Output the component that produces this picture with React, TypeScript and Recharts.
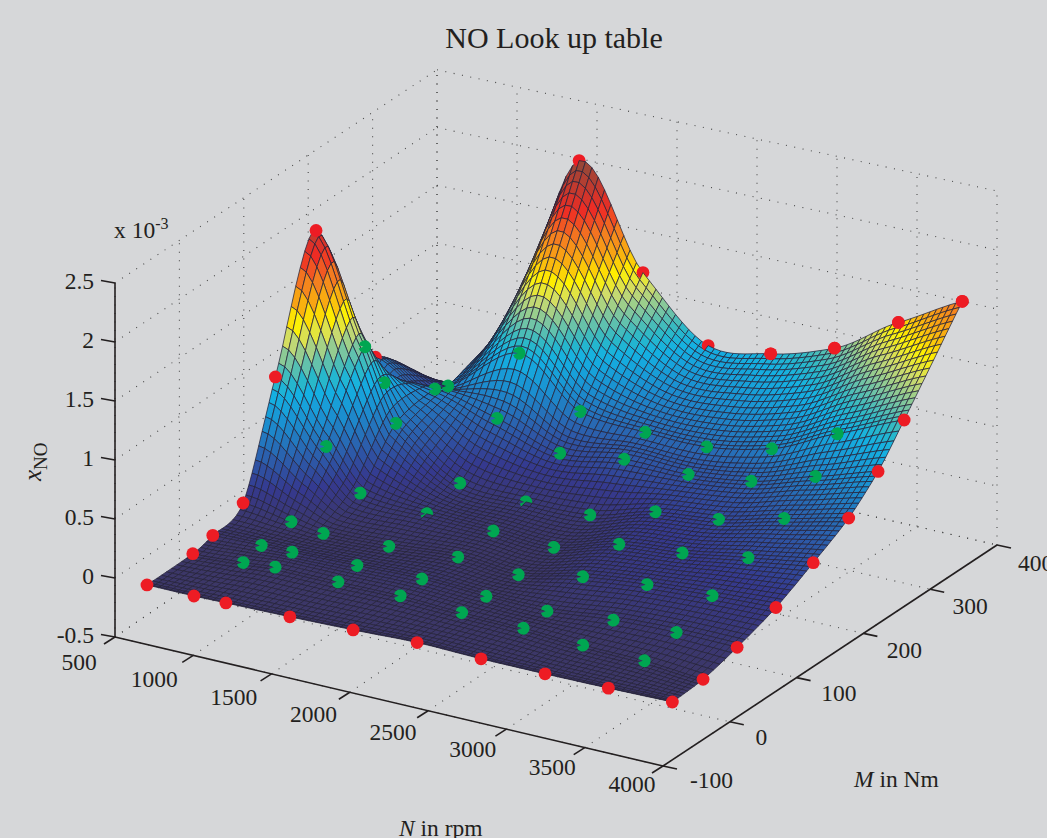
import React from 'react';
import { ScatterChart, Scatter, XAxis, YAxis, ReferenceLine } from 'recharts';

// Lookup table: one row per torque line, front to back.
const speeds = [700, 1000, 1200, 1600, 2000, 2400, 2800, 3200, 3600, 4000];

const torqueRows = [
  [-99, -99, -98, -96, -95, -93, -91, -89, -88, -86],
  [-28, -23, -22, -22, -23, -25, -27, -32, -34, -40],
  [3, 5, 4, 7, 10, 12, 9, 14, 14, 11],
  [50, 51, 52, 56, 65, 61, 63, 65, 68, 69],
  [100, 105, 109, 114, 119, 115, 118, 118, 122, 125],
  [163, 165, 164, 165, 169, 170, 173, 173, 176, 178],
  [213, 195, 224, 222, 221, 222, 223, 222, 223, 222],
  [255, 257, 244, 256, 252, 254, 251, 253, 256, 261],
  [351, 348, 347, 348, 348, 350, 348, 348, 348, 348],
];

const noRows = [
  [0, 0, 0, 0, 0.01, 0.02, 0, -0.01, -0.01, -0.01],
  [0, 0, 0.02, 0.02, 0.03, 0.02, 0.02, 0.02, 0.02, 0.01],
  [0.04, 0.04, 0.05, 0.05, 0.05, 0.02, 0.03, 0.06, 0.08, 0.09],
  [0.14, 0.07, 0.03, 0.03, 0.03, 0.02, 0.12, 0.17, 0.19, 0.21],
  [1.03, 0.51, 0.16, 0.09, 0.05, 0.05, 0.19, 0.24, 0.31, 0.38],
  [2.05, 1.14, 0.55, 0.16, 0.11, 0.12, 0.26, 0.32, 0.44, 0.56],
  [0.11, 0.72, 0.62, 0.5, 0.33, 0.4, 0.39, 0.46, 0.62, 0.79],
  [0.62, 0.38, 0.57, 0.93, 0.57, 0.51, 0.52, 0.62, 0.86, 1.08],
  [0, 0.22, 0.78, 2.24, 1.4, 0.89, 0.95, 1.12, 1.46, 1.76],
];

const speedTicks = [500, 1000, 1500, 2000, 2500, 3000, 3500, 4000];
const torqueTicks = [-100, 0, 100, 200, 300, 400];
const noTicks = [-0.5, 0, 0.5, 1, 1.5, 2, 2.5];

const colourStops: [number, string][] = [
  [0.02, '#3c3768'],
  [0.25, '#35398f'],
  [0.45, '#2c5dab'],
  [0.7, '#1b8fd0'],
  [0.9, '#14b1e2'],
  [1.0, '#2ab8c8'],
  [1.15, '#7cc6a0'],
  [1.3, '#d0dc6a'],
  [1.42, '#fff200'],
  [1.55, '#f9b20f'],
  [1.72, '#f47d20'],
  [1.9, '#ee2c24'],
  [2.25, '#8d4a3a'],
];

const TEXT = '#231f20';
const FONT = '"Liberation Serif", serif';
const RED = '#ed1c24';
const GREEN = '#00a651';
const LAST_ROW = noRows.length - 1;
const DOT_R = 6.4;

// mesh lines per gap between two table rows, about one every 5.5 Nm
const rowSteps = [12, 6, 9, 10, 10, 9, 6, 17];
// dots that lie under the sheet in the picture, as row-column
const buriedDots = ['4-3', '5-4'];

// view of the 3d box, in chart units
const project = (n: number, m: number, z: number) => {
  const t = (n - 500) / 3500;
  const d = (m + 100) / 100;
  const s = 118 - 2.6 * (d / 5) * (1 - t);
  return {
    sx: 115 + 548 * t + (64.4 + 2.4 * t) * d,
    sy: 637 + 129 * t - 44.2 * d - s * (z + 0.5),
  };
};

const hex = (c: string) => [1, 3, 5].map((i) => parseInt(c.slice(i, i + 2), 16));

const colourFor = (z: number) => {
  if (z <= colourStops[0][0]) return colourStops[0][1];
  for (let i = 1; i < colourStops.length; i++) {
    if (z <= colourStops[i][0]) {
      const [z0, c0] = colourStops[i - 1];
      const [z1, c1] = colourStops[i];
      const f = (z - z0) / (z1 - z0);
      const a = hex(c0);
      const b = hex(c1);
      return `rgb(${a.map((v, k) => Math.round(v + (b[k] - v) * f)).join(',')})`;
    }
  }
  return colourStops[colourStops.length - 1][1];
};

// The table above is the data. Between its knots the sheet is only a drawn
// curve, the same idea as a Line with type="monotone".
const TENSION = 0.42;
const curve = (p0: number, p1: number, p2: number, p3: number, f: number) => {
  const t1 = TENSION * (p2 - p0);
  const t2 = TENSION * (p3 - p1);
  const f2 = f * f;
  const f3 = f2 * f;
  return (2 * f3 - 3 * f2 + 1) * p1 + (f3 - 2 * f2 + f) * t1 + (-2 * f3 + 3 * f2) * p2 + (f3 - f2) * t2;
};

const pick = (rows: number[][], r: number, c: number) => {
  const rr = Math.max(0, Math.min(rows.length - 1, r));
  const cc = Math.max(0, Math.min(rows[0].length - 1, c));
  const over = r - rr;
  const side = c - cc;
  let v = rows[rr][cc];
  if (over) v += over * (rows[rr][cc] - rows[rr - Math.sign(over)][cc]);
  if (side) v += side * (rows[rr][cc] - rows[rr][cc - Math.sign(side)]);
  return v;
};

const sheet = (rows: number[][], r: number, c: number, fr: number, fc: number) => {
  const across = [-1, 0, 1, 2].map((k) =>
    curve(pick(rows, r + k, c - 1), pick(rows, r + k, c), pick(rows, r + k, c + 1), pick(rows, r + k, c + 2), fc),
  );
  return curve(across[0], across[1], across[2], across[3], fr);
};

const stepsFor = (c: number) => Math.round((speeds[c + 1] - speeds[c]) / 40);

// dots sit just above the sheet, so most are painted after the cell in front of them;
// the ones behind the peaks keep their place in the back-to-front order
const paintsLate = (r: number, c: number) =>
  r >= 1 && r < LAST_ROW && !(c === 0 && r >= 6) && !(c === 1 && r === 7) && !buriedDots.includes(`${r}-${c}`);
const isBorder = (r: number, c: number) => r === 0 || r === LAST_ROW || c === 0 || c === speeds.length - 1;

const Dot = ({ x, y, r, c }: { x: number; y: number; r: number; c: number }) => {
  if (isBorder(r, c)) return <circle cx={x} cy={y} r={DOT_R} fill={RED} />;
  // the green dots show a small bite on their left, where the mesh pokes through
  const ax = x - DOT_R * 0.96;
  const ay = y - DOT_R * 0.28;
  const by = y + DOT_R * 0.28;
  return (
    <path
      d={`M${x - 1.5} ${y}L${ax} ${ay}A${DOT_R} ${DOT_R} 0 1 1 ${ax} ${by}Z`}
      fill={GREEN}
    />
  );
};

const SurfaceCell = (props: any) => {
  const { cx, cy, payload } = props;
  const { r, c } = payload;
  const polys: React.ReactNode[] = [];
  if (c < speeds.length - 1 && r < LAST_ROW) {
    const cols = stepsFor(c);
    const rowsHere = rowSteps[r];
    const at = (i: number, j: number) => {
      const fc = i / cols;
      const fr = j / rowsHere;
      const n = speeds[c] + (speeds[c + 1] - speeds[c]) * fc;
      const z = sheet(noRows, r, c, fr, fc);
      const p = project(n, sheet(torqueRows, r, c, fr, fc), z);
      return { x: cx + p.sx - payload.sx, y: cy + p.sy - payload.sy, z };
    };
    for (let i = 0; i < cols; i++) {
      for (let j = rowsHere - 1; j >= 0; j--) {
        const a = at(i, j);
        const b = at(i + 1, j);
        const d = at(i + 1, j + 1);
        const e = at(i, j + 1);
        polys.push(
          <path
            key={`${i}-${j}`}
            d={`M${a.x.toFixed(1)} ${a.y.toFixed(1)}L${b.x.toFixed(1)} ${b.y.toFixed(1)}L${d.x.toFixed(1)} ${d.y.toFixed(1)}L${e.x.toFixed(1)} ${e.y.toFixed(1)}Z`}
            fill={colourFor((a.z + b.z + d.z + e.z) / 4)}
            stroke="#25233a"
            strokeWidth={0.75}
          />,
        );
      }
    }
  }
  const next = r < LAST_ROW ? project(speeds[c], torqueRows[r + 1][c], noRows[r + 1][c]) : null;
  return (
    <g>
      {polys}
      {!paintsLate(r, c) && <Dot x={cx} y={cy} r={r} c={c} />}
      {next && paintsLate(r + 1, c) && (
        <Dot x={cx + next.sx - payload.sx} y={cy + next.sy - payload.sy} r={r + 1} c={c} />
      )}
    </g>
  );
};

const surfacePoints = speeds
  .flatMap((n, c) =>
    noRows.map((row, r) => ({
      ...project(n, torqueRows[r][c], row[c]),
      r,
      c,
    })),
  )
  .sort((a, b) => a.c - b.c || b.r - a.r);

// back row points that stay in front of the sheet in the picture
const frontPoints = surfacePoints.filter((p) => p.r === LAST_ROW && p.c >= 6);

const RedDot = (props: any) => <circle cx={props.cx} cy={props.cy} r={DOT_R} fill={RED} />;

const TextMark = (props: any) => {
  const { cx, cy, payload } = props;
  return (
    <text
      x={cx}
      y={cy}
      textAnchor={payload.anchor}
      fontFamily={FONT}
      fontSize={payload.size}
      fill={TEXT}
      transform={payload.rotate ? `rotate(${payload.rotate} ${cx} ${cy})` : undefined}
    >
      {payload.parts.map((part: any, i: number) => (
        <tspan key={i} fontStyle={part.italic ? 'italic' : 'normal'} fontSize={part.size} dy={part.dy}>
          {part.text}
        </tspan>
      ))}
    </text>
  );
};

const plain = (text: string) => [{ text }];

const textMarks = [
  { sx: 554, sy: 48, anchor: 'middle', size: 30, parts: plain('NO Look up table') },
  {
    sx: 114,
    sy: 238,
    anchor: 'start',
    size: 23.5,
    parts: [{ text: 'x 10' }, { text: '-3', size: 16, dy: -9 }],
  },
  {
    sx: 41,
    sy: 481,
    anchor: 'start',
    size: 25,
    rotate: -90,
    parts: [{ text: 'x', italic: true }, { text: 'NO', size: 19, dy: 6 }],
  },
  {
    sx: 399,
    sy: 836,
    anchor: 'start',
    size: 23.5,
    parts: [{ text: 'N', italic: true }, { text: ' in rpm' }],
  },
  {
    sx: 854,
    sy: 787,
    anchor: 'start',
    size: 23.5,
    parts: [{ text: 'M', italic: true }, { text: ' in Nm' }],
  },
  ...noTicks.map((v) => {
    const p = project(500, -100, v);
    return { sx: 94, sy: p.sy + 6, anchor: 'end', size: 23.5, parts: plain(String(v)) };
  }),
  ...speedTicks.map((n, i) => {
    const p = project(n, -100, -0.5);
    return {
      sx: p.sx + (i === 0 ? -36 : -40.5 + 1.35 * i),
      sy: p.sy + 33 - i,
      anchor: 'middle',
      size: 23.5,
      parts: plain(String(n)),
    };
  }),
  ...torqueTicks.map((m, i) => {
    const p = project(4000, m, -0.5);
    return { sx: p.sx + 27 - i * 1.2, sy: p.sy + 22 + i * 0.7, anchor: 'start', size: 23.5, parts: plain(String(m)) };
  }),
];

type Seg = [{ sx: number; sy: number }, { sx: number; sy: number }];

const toSegment = (s: Seg) => s.map((p) => ({ x: p.sx, y: p.sy })) as any;

const gridSegments: Seg[] = [
  ...speedTicks.map((n) => [project(n, -100, -0.5), project(n, 400, -0.5)] as Seg),
  ...torqueTicks.map((m) => [project(500, m, -0.5), project(4000, m, -0.5)] as Seg),
  ...noTicks.map((z) => [project(500, -100, z), project(500, 400, z)] as Seg),
  ...torqueTicks.map((m) => [project(500, m, -0.5), project(500, m, 2.5)] as Seg),
  ...noTicks.map((z) => [project(500, 400, z), project(4000, 400, z)] as Seg),
  ...speedTicks.map((n) => [project(n, 400, -0.5), project(n, 400, 2.5)] as Seg),
];

const shifted = (p: { sx: number; sy: number }, dx: number, dy: number) => ({ sx: p.sx + dx, sy: p.sy + dy });

const axisSegments: Seg[] = [
  [project(500, -100, -0.5), project(500, -100, 2.5)],
  [project(500, -100, -0.5), project(4000, -100, -0.5)],
  [project(4000, -100, -0.5), project(4000, 400, -0.5)],
  ...noTicks.map((z) => {
    const p = project(500, -100, z);
    return [p, shifted(p, -14, -2.5)] as Seg;
  }),
  ...speedTicks.map((n) => {
    const p = project(n, -100, -0.5);
    return [p, shifted(p, -11, 7)] as Seg;
  }),
  ...torqueTicks.map((m) => {
    const p = project(4000, m, -0.5);
    return [p, shifted(p, 14, 3)] as Seg;
  }),
];

export default function App() {
  return (
    <div style={{ position: 'absolute', left: 0, top: 0, width: 1047, height: 838, background: '#d6d7d9', overflow: 'hidden' }}>
      <ScatterChart width={1047} height={838} margin={{ top: 0, right: 0, bottom: 0, left: 0 }}>
        <XAxis type="number" dataKey="sx" domain={[0, 1047]} hide />
        <YAxis type="number" dataKey="sy" domain={[0, 838]} reversed hide />
        {gridSegments.map((s, i) => (
          <ReferenceLine key={`g${i}`} segment={toSegment(s)} stroke="#4a4a4a" strokeWidth={1.1} strokeDasharray="1 7.5" />
        ))}
        {axisSegments.map((s, i) => (
          <ReferenceLine key={`a${i}`} segment={toSegment(s)} stroke={TEXT} strokeWidth={1.6} />
        ))}
        <Scatter data={surfacePoints} shape={SurfaceCell} isAnimationActive={false} />
        <Scatter data={frontPoints} shape={RedDot} isAnimationActive={false} />
        <Scatter data={textMarks} shape={TextMark} isAnimationActive={false} />
      </ScatterChart>
    </div>
  );
}
